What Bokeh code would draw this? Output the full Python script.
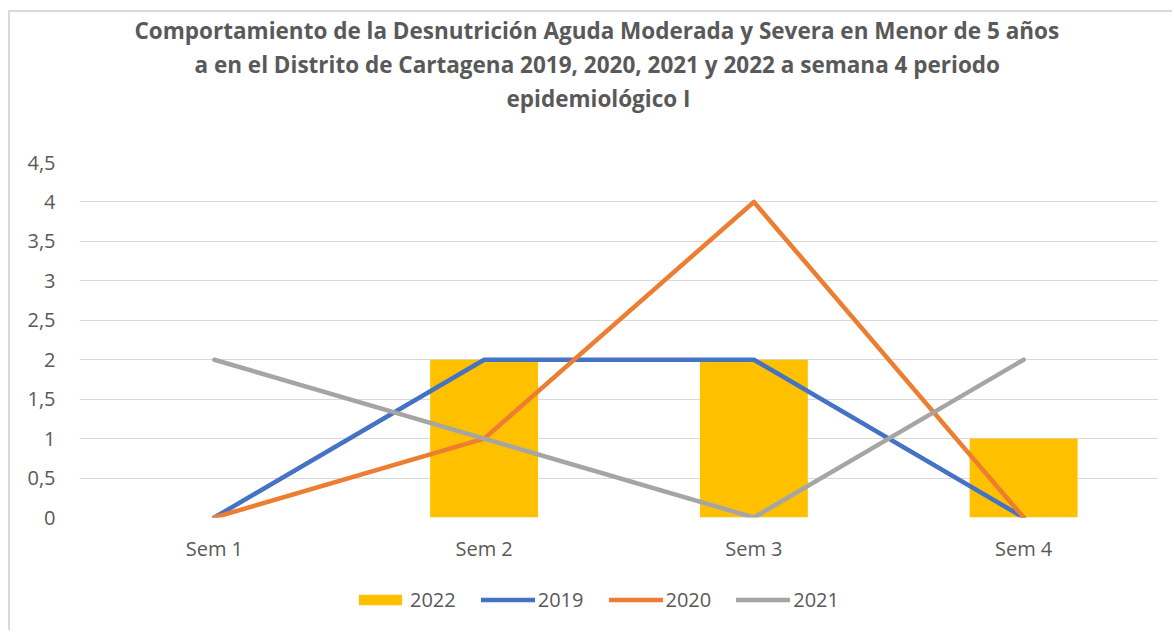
from bokeh.plotting import figure
from bokeh.layouts import column
from bokeh.models import (ColumnDataSource, FactorRange, Range1d, Legend, LegendItem,
                          FixedTicker, CustomJSTickFormatter, Title)
from bokeh.embed import file_html
from bokeh.resources import INLINE

# ---- data ----
weeks = ["Sem 1", "Sem 2", "Sem 3", "Sem 4"]
cases_2022 = [0, 2, 2, 1]
cases_2019 = [0, 2, 2, 0]
cases_2020 = [0, 1, 4, 0]
cases_2021 = [2, 1, 0, 2]
y_ticks = [0, 0.5, 1, 1.5, 2, 2.5, 3, 3.5, 4, 4.5]
series_names = ["2022", "2019", "2020", "2021"]
title_lines = [
    "Comportamiento de la Desnutrición Aguda Moderada y Severa en Menor de 5 años",
    "a en el Distrito de Cartagena 2019, 2020, 2021 y 2022 a semana 4 periodo",
    "epidemiológico I",
]

src = ColumnDataSource(dict(week=weeks, c2022=cases_2022, c2019=cases_2019,
                            c2020=cases_2020, c2021=cases_2021))

FONT = "Open Sans"
TXT = "#595959"
C_BAR, C19, C20, C21 = "#FFC000", "#4472C4", "#ED7D31", "#A5A5A5"

p = figure(x_range=FactorRange(*weeks, range_padding=0), y_range=Range1d(0, 4.5),
           width=1164, height=563, output_backend="svg", toolbar_location=None,
           title=title_lines[0],
           min_border_left=69, min_border_right=16, min_border_top=149, min_border_bottom=58)
p.styles = {"margin-left": "8px", "margin-top": "10px",
            "border-left": "2px solid #D9D9D9", "border-top": "2px solid #D9D9D9"}
p.outline_line_color = None
p.background_fill_color = "white"
p.border_fill_color = "white"


def style_title(t, offset, size="22.5px", standoff=1):
    t.align = "left"
    t.offset = offset
    t.text_font = FONT
    t.text_font_style = "bold"
    t.text_font_size = size
    t.text_color = TXT
    t.standoff = standoff


style_title(p.title, 55)
# first added sits closest to the frame: spacer, then line 3, then line 2
spacer = Title(text=" ")
style_title(spacer, 0, size="1px", standoff=45)
p.add_layout(spacer, "above")
t3 = Title(text=title_lines[2])
style_title(t3, 427)
p.add_layout(t3, "above")
t2 = Title(text=title_lines[1])
style_title(t2, 115)
p.add_layout(t2, "above")


def draw_series(fig):
    rb = fig.vbar(x="week", top="c2022", width=0.4, source=src, color=C_BAR, line_color=None)
    rl = [fig.line(x="week", y=col, source=src, line_color=c, line_width=4.5,
                   line_join="round", line_cap="round")
          for col, c in (("c2019", C19), ("c2020", C20), ("c2021", C21))]
    return [rb] + rl


draw_series(p)

# axes
p.xgrid.grid_line_color = None
p.ygrid.grid_line_color = "#D9D9D9"
p.ygrid.grid_line_width = 1
p.yaxis.ticker = FixedTicker(ticks=y_ticks)
p.yaxis.formatter = CustomJSTickFormatter(code="return tick.toString().replace('.', ',');")
for ax in (p.xaxis[0], p.yaxis[0]):
    ax.axis_line_color = None
    ax.major_tick_line_color = None
    ax.minor_tick_line_color = None
    ax.major_tick_out = 0
    ax.major_tick_in = 0
    ax.minor_tick_out = 0
    ax.major_label_text_font = FONT
    ax.major_label_text_font_size = "20px"
    ax.major_label_text_color = TXT
p.yaxis.major_label_standoff = 24
p.xaxis.major_label_standoff = 17

# ---- legend strip below the chart (its series sit outside its visible range) ----
pl = figure(x_range=FactorRange(*weeks, range_padding=0), y_range=Range1d(10, 11),
            width=1164, height=57, output_backend="svg", toolbar_location=None,
            x_axis_location=None, y_axis_location=None,
            min_border_left=0, min_border_right=0, min_border_top=0, min_border_bottom=0)
pl.styles = {"margin-left": "8px", "border-left": "2px solid #D9D9D9"}
pl.grid.visible = False
pl.outline_line_color = None
pl.border_fill_color = "white"
legend_renderers = draw_series(pl)

legend = Legend(items=[LegendItem(label=n, renderers=[r])
                       for n, r in zip(series_names, legend_renderers)],
                orientation="horizontal", location=(274, 17),
                glyph_width=54, glyph_height=13, label_standoff=3, spacing=25,
                padding=0, margin=0, border_line_color=None, background_fill_alpha=0,
                label_text_font=FONT, label_text_font_size="20px", label_text_color=TXT)
pl.add_layout(legend, "center")

layout = column(p, pl, spacing=0)
open("out.html", "w").write(file_html(layout, INLINE))
